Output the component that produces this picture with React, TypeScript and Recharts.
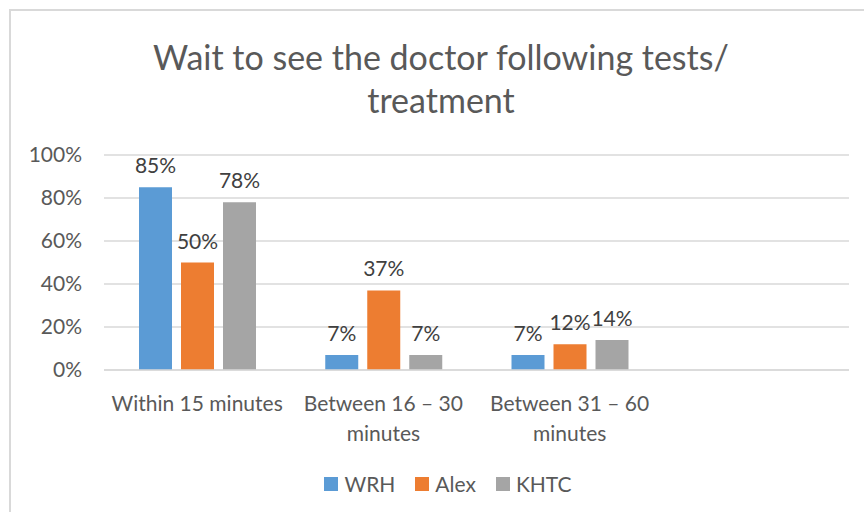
import { Bar, BarChart, CartesianGrid, LabelList, XAxis, YAxis } from 'recharts';

const categories = ['Within 15 minutes', 'Between 16 – 30 minutes', 'Between 31 – 60 minutes', ''];
const wrh = [85, 7, 7, null];
const alex = [50, 37, 12, null];
const khtc = [78, 7, 14, null];
const yTicks = [0, 20, 40, 60, 80, 100];

const series = [
  { key: 'wrh', name: 'WRH', color: '#5B9BD5' },
  { key: 'alex', name: 'Alex', color: '#ED7D31' },
  { key: 'khtc', name: 'KHTC', color: '#A5A5A5' },
];

const data = categories.map((name, i) => ({ name, wrh: wrh[i], alex: alex[i], khtc: khtc[i] }));

const FONT = 'Lato, "Noto Sans", sans-serif';
const TEXT = '#595959';
const GRID = '#D9D9D9';
const FS = 21;

// Excel wraps the long category names onto a second line
function CategoryTick({ x, y, payload }: any) {
  const label: string = payload?.value ?? '';
  let lines = [label];
  if (label.length > 18) {
    const cut = label.lastIndexOf(' ');
    lines = [label.slice(0, cut), label.slice(cut + 1)];
  }
  return (
    <text x={x} y={y} textAnchor="middle" fill={TEXT} fontSize={FS} fontFamily={FONT}>
      {lines.map((l, i) => (
        <tspan key={i} x={x} dy={i === 0 ? 33 : 30}>
          {l}
        </tspan>
      ))}
    </text>
  );
}

export default function App() {
  return (
    <div
      style={{
        position: 'fixed',
        top: 0,
        left: 0,
        width: 864,
        height: 512,
        overflow: 'hidden',
        background: '#fff',
        fontFamily: FONT,
      }}
    >
      <div
        style={{
          position: 'absolute',
          left: 9,
          top: 9,
          width: 900,
          height: 600,
          border: `2px solid ${GRID}`,
        }}
      />
      <div
        style={{
          position: 'absolute',
          left: 0,
          width: 882,
          top: 35,
          textAlign: 'center',
          color: TEXT,
          fontSize: 34,
          lineHeight: '43px',
        }}
      >
        Wait to see the doctor following tests/
        <br />
        treatment
      </div>
      <div style={{ position: 'absolute', left: 0, top: 0 }}>
        <BarChart
          width={864}
          height={512}
          data={data}
          margin={{ top: 155, right: 15, bottom: 0, left: 0 }}
          barSize={33}
          barGap={9}
        >
          <CartesianGrid stroke={GRID} strokeWidth={1.5} vertical={false} />
          <XAxis
            dataKey="name"
            axisLine={{ stroke: GRID, strokeWidth: 1.5 }}
            tickLine={false}
            height={142}
            interval={0}
            tick={<CategoryTick />}
          />
          <YAxis
            domain={[0, 100]}
            ticks={yTicks}
            width={104}
            axisLine={false}
            tickLine={false}
            tickSize={0}
            tickMargin={22}
            tickFormatter={(v: number) => `${v}%`}
            tick={{ fill: TEXT, fontSize: FS, fontFamily: FONT }}
          />
          {series.map((s) => (
            <Bar key={s.key} dataKey={s.key} name={s.name} fill={s.color} isAnimationActive={false}>
              <LabelList
                dataKey={s.key}
                position="top"
                offset={14}
                fill="#404040"
                fontSize={FS}
                fontFamily={FONT}
                formatter={(v: any) => (v == null ? '' : `${v}%`)}
              />
            </Bar>
          ))}
        </BarChart>
      </div>
      <div
        style={{
          position: 'absolute',
          left: 0,
          width: 896,
          top: 472,
          display: 'flex',
          justifyContent: 'center',
          gap: 20,
          color: TEXT,
          fontSize: FS,
          lineHeight: '24px',
        }}
      >
        {series.map((s) => (
          <div key={s.key} style={{ display: 'flex', alignItems: 'center' }}>
            <span style={{ width: 14, height: 14, background: s.color, marginRight: 6 }} />
            {s.name}
          </div>
        ))}
      </div>
    </div>
  );
}
